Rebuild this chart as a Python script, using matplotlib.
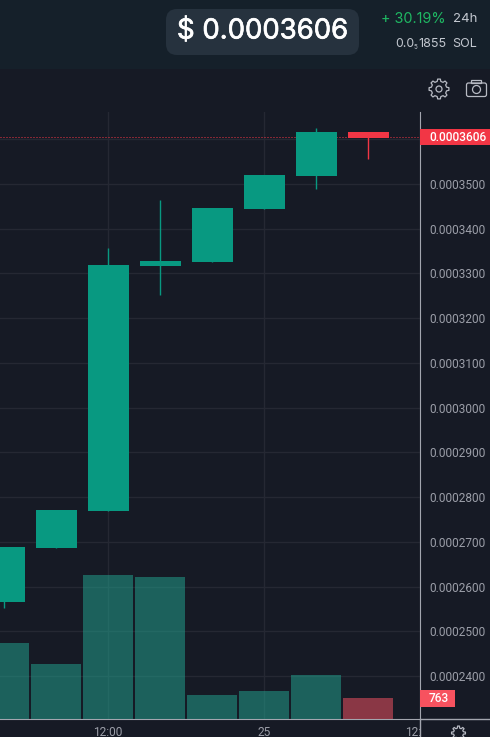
import numpy as np
import matplotlib
matplotlib.use('Agg')
import matplotlib.pyplot as plt
import matplotlib.patheffects as pe
from matplotlib.patches import Rectangle, FancyBboxPatch, Circle, Polygon
from matplotlib.transforms import Bbox, TransformedBbox

# candle data
opens = [0.0002565, 0.0002686, 0.0002768, 0.0003317, 0.0003326, 0.0003444, 0.0003518, 0.0003616]
closes = [0.0002688, 0.0002771, 0.0003319, 0.0003328, 0.0003446, 0.0003520, 0.0003616, 0.0003604]
highs = [0.0002688, 0.0002771, 0.0003357, 0.0003464, 0.0003446, 0.0003520, 0.0003625, 0.0003616]
lows = [0.0002551, 0.0002686, 0.0002768, 0.0003252, 0.0003326, 0.0003444, 0.0003489, 0.0003556]
volumes = [2760, 2000, 5230, 5160, 870, 1020, 1600, 763]

price_ticks = [0.00024, 0.00025, 0.00026, 0.00027, 0.00028, 0.00029, 0.00030,
               0.00031, 0.00032, 0.00033, 0.00034, 0.00035, 0.00036]
time_ticks = [2, 5, 8]
time_labels = ['12:00', '25', '12:00']
last_price = 0.0003606

BG = '#161a25'
HEADER = '#15202a'
GREEN = '#089981'
RED = '#f23645'
VOL_GREEN = '#22a893'
VOL_RED = '#fe5465'
AXIS = '#a3a6af'
GRID = '#252833'
LABEL = '#9b9ea8'
ICON = '#b8bbc4'
SOFT = '#c3c8d0'

plt.rcParams['font.family'] = ['Roboto', 'DejaVu Sans']


def gear(cx, cy, r_out, r_in, teeth=8):
    # outline of a cog, used for the settings and the theme icon
    pts = []
    for k in range(teeth):
        a = 2 * np.pi * k / teeth
        step = 2 * np.pi / teeth
        for off, r in [(-0.3, r_in), (-0.17, r_out), (0.17, r_out), (0.3, r_in)]:
            pts.append((cx + r * np.cos(a + off * step), cy + r * np.sin(a + off * step)))
    return Polygon(pts, closed=True, fill=False, edgecolor=ICON, linewidth=0.9, joinstyle='round')


fig = plt.figure(figsize=(4.9, 7.37), dpi=100, facecolor=BG)

# price panel, x=420px wide, one candle is 52px
ax = fig.add_axes([0, 18 / 737, 420 / 490, 607 / 737], facecolor=BG)
ax.set_xlim(-4 / 52, 416 / 52)
ax.set_ylim(0.00023038, 0.00036611)

# volume bars share the x axis
vol_ax = ax.twinx()
vol_ax.set_ylim(0, 36.3 * 607)
vol_ax.axis('off')
vol_colors = [VOL_RED if c < o else VOL_GREEN for o, c in zip(opens, closes)]
vol_ax.bar(range(len(volumes)), volumes, width=50.4 / 52, color=vol_colors, alpha=0.5, linewidth=0)

ax.yaxis.tick_right()
ax.set_yticks(price_ticks)
ax.set_yticklabels(['%.7f' % p if p != 0.00036 else '' for p in price_ticks])
ax.set_xticks(time_ticks)
ax.set_xticklabels(time_labels)
ax.tick_params(axis='y', length=0, pad=6.5, labelsize=8.6, labelcolor=LABEL)
ax.tick_params(axis='x', length=0, pad=5, labelsize=8.6, labelcolor=LABEL)
ax.grid(True, color=GRID, linewidth=1)
ax.set_axisbelow(True)

# only the last time label runs into the price axis
last_label = ax.get_xticklabels()[-1]
last_label.set_clip_on(True)
last_label.set_clip_box(TransformedBbox(Bbox([[0, 0], [420 / 490, 1]]), fig.transFigure))

for side in ['top', 'left']:
    ax.spines[side].set_visible(False)
ax.spines['right'].set_color(AXIS)
ax.spines['bottom'].set_color(AXIS)

# candles
for i in range(len(opens)):
    col = RED if closes[i] < opens[i] else GREEN
    ax.plot([i, i], [lows[i], highs[i]], color=col, linewidth=1, zorder=3, solid_capstyle='butt')
    ax.bar(i, abs(closes[i] - opens[i]), bottom=min(opens[i], closes[i]), width=41 / 52,
           color=col, linewidth=0, zorder=4)

ax.axhline(last_price, color=RED, linewidth=0.72, linestyle=(0, (1, 2)), zorder=2)

# overlay in pixel coords for header, tags and icons
ov = fig.add_axes([0, 0, 1, 1])
ov.set_xlim(0, 490)
ov.set_ylim(737, 0)
ov.axis('off')

ov.add_patch(Rectangle((0, 0), 490, 69, color=HEADER, linewidth=0))
ov.add_patch(FancyBboxPatch((166, 9), 193, 46, boxstyle='round,pad=0,rounding_size=11',
                            facecolor='#26323e', edgecolor='none'))
ov.text(177, 31.5, '$ 0.0003606', color='white', fontsize=19.8, family='Inter', va='center', ha='left',
        path_effects=[pe.withStroke(linewidth=0.5, foreground='white')])
ov.text(381, 19, '+ 30.19%', color='#1fb863', fontsize=10.4, family='Inter', va='center', ha='left')
ov.text(477, 19, '24h', color=SOFT, fontsize=9.5, family='Inter', va='center', ha='right')
ov.text(395, 44, '0.0', color=SOFT, fontsize=8.8, family='Inter', va='center', ha='left')
ov.text(413.5, 47, '5', color=SOFT, fontsize=4.5, family='Inter', va='center', ha='left')
ov.text(446, 44, '1855', color=SOFT, fontsize=9, family='Inter', va='center', ha='right')
ov.text(477, 44, 'SOL', color=SOFT, fontsize=9, family='Inter', va='center', ha='right')

# price tag and volume tag
ov.add_patch(Rectangle((420, 129), 70, 16, color=RED, linewidth=0))
ov.text(457.5, 137.5, '0.0003606', color='white', fontsize=8.6, fontweight='medium', va='center', ha='center')
ov.add_patch(Rectangle((420, 690), 35, 17, color='#f7525f', linewidth=0))
ov.text(439, 698.5, '763', color='white', fontsize=8.6, fontweight='medium', va='center', ha='center')

# settings icon
ov.add_patch(gear(439, 89, 10, 7.8))
ov.add_patch(Circle((439, 89), 3, fill=False, edgecolor=ICON, linewidth=0.9))
# camera icon
ov.add_patch(FancyBboxPatch((466.5, 83), 20, 13.5, boxstyle='round,pad=0,rounding_size=2',
                            fill=False, edgecolor=ICON, linewidth=0.9))
ov.add_patch(Circle((476.5, 89.5), 4, fill=False, edgecolor=ICON, linewidth=0.9))
ov.add_patch(Rectangle((471, 80), 10, 3, fill=False, edgecolor=ICON, linewidth=0.9))
# theme icon at the bottom, cut by the edge
ov.add_patch(gear(458.5, 733, 7, 5))

# axis lines run on past the panel
ov.plot([420, 490], [719, 719], color=AXIS, linewidth=1)
ov.plot([420, 420], [719, 737], color=AXIS, linewidth=1)

fig.savefig('out.png', dpi=100, facecolor=BG)
